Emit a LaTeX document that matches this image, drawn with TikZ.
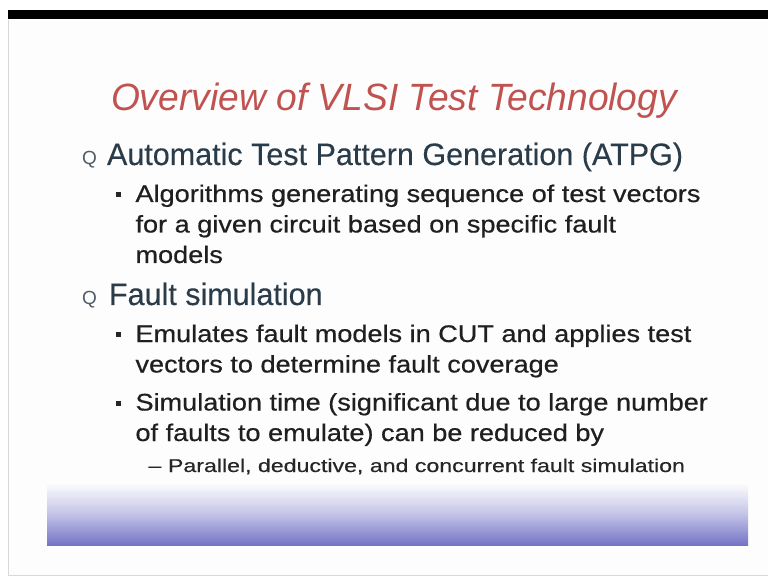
\documentclass[tikz,border=0pt]{standalone}
\usepackage{fontspec}
\usepackage{graphicx}
\setmainfont{Liberation Sans}
\definecolor{titlered}{RGB}{192,82,80}
\definecolor{lvlone}{RGB}{42,60,74}
\definecolor{qgray}{RGB}{80,92,104}
\definecolor{bandblue}{RGB}{116,116,198}
\definecolor{bandmid}{RGB}{196,196,232}
\definecolor{pagebg}{RGB}{253,253,253}
\newsavebox\refbox
\begin{document}
\sbox\refbox{\fontsize{38}{38}\selectfont\itshape Overview of VLSI Test Technology}%
\pgfmathsetmacro\sT{566/\the\wd\refbox}%
\sbox\refbox{\fontsize{31}{31}\selectfont\addfontfeature{FakeBold=0.3}Automatic Test Pattern Generation (ATPG)}%
\pgfmathsetmacro\sA{576/\the\wd\refbox}%
\sbox\refbox{\fontsize{24}{24}\selectfont\addfontfeature{FakeBold=0.5}Algorithms generating sequence of test vectors}%
\pgfmathsetmacro\sB{565/\the\wd\refbox}%
\sbox\refbox{\fontsize{18.5}{18.5}\selectfont\addfontfeature{FakeBold=0.4}Parallel, deductive, and concurrent fault simulation}%
\pgfmathsetmacro\sC{517/\the\wd\refbox}%
\begin{tikzpicture}[x=1pt,y=-1pt,
  txt/.style={anchor=base west,inner sep=0pt,outer sep=0pt},
  titletxt/.style={txt,text=titlered,font=\fontsize{38}{38}\selectfont\itshape},
  lone/.style={txt,text=lvlone,font=\fontsize{31}{31}\selectfont\addfontfeature{FakeBold=0.3}},
  ltwo/.style={txt,text=black!88,font=\fontsize{24}{24}\selectfont\addfontfeature{FakeBold=0.5}},
  lthree/.style={txt,text=black!85,font=\fontsize{18.5}{18.5}\selectfont\addfontfeature{FakeBold=0.4}},
  qbullet/.style={txt,text=qgray,font=\fontsize{19}{19}\selectfont},
  sqbullet/.style={fill=black!85,inner sep=0pt,minimum size=5pt,shape=rectangle}]
\useasboundingbox (0,0) rectangle (768,577);
\fill[white] (0,0) rectangle (768,577);
\fill[pagebg] (8,20) rectangle (768,575);
\draw[black!15,line width=0.8pt] (8,20) -- (8,575) -- (768,575);
% black bar
\fill[black] (8,10) rectangle (768,19.5);
% bottom band
\shade[top color=white,bottom color=bandblue,middle color=bandmid,shading angle=0] (47,482) rectangle (748,545);
% title
\node[titletxt] (title) at (111,111) {\scalebox{\sT}[1]{Overview of VLSI Test Technology}};
% level one
\node[qbullet] (q1) at (82,165) {Q};
\node[lone] (atpg) at (107,165) {\scalebox{\sA}[1]{Automatic Test Pattern Generation (ATPG)}};
\node[qbullet] (q2) at (82,305) {Q};
\node[lone] (fsim) at (109,305) {\scalebox{\sA}[1]{Fault simulation}};
% level two
\node[sqbullet] (b1) at (118,194.5) {};
\node[ltwo] (a1) at (135.5,202) {\scalebox{\sB}[1]{Algorithms generating sequence of test vectors}};
\node[ltwo] (a2) at (135.5,232.5) {\scalebox{\sB}[1]{for a given circuit based on specific fault}};
\node[ltwo] (a3) at (135.5,263) {\scalebox{\sB}[1]{models}};
\node[sqbullet] (b2) at (118,334.5) {};
\node[ltwo] (e1) at (135.5,342) {\scalebox{\sB}[1]{Emulates fault models in CUT and applies test}};
\node[ltwo] (e2) at (135.5,372.5) {\scalebox{\sB}[1]{vectors to determine fault coverage}};
\node[sqbullet] (b3) at (118,403) {};
\node[ltwo] (s1) at (135.5,410.5) {\scalebox{\sB}[1]{Simulation time (significant due to large number}};
\node[ltwo] (s2) at (135.5,441) {\scalebox{\sB}[1]{of faults to emulate) can be reduced by}};
% level three
\node[lthree] (dash) at (148.5,472) {\scalebox{\sC}[1]{–}};
\node[lthree] (p1) at (168,472) {\scalebox{\sC}[1]{Parallel, deductive, and concurrent fault simulation}};
\end{tikzpicture}
\end{document}
